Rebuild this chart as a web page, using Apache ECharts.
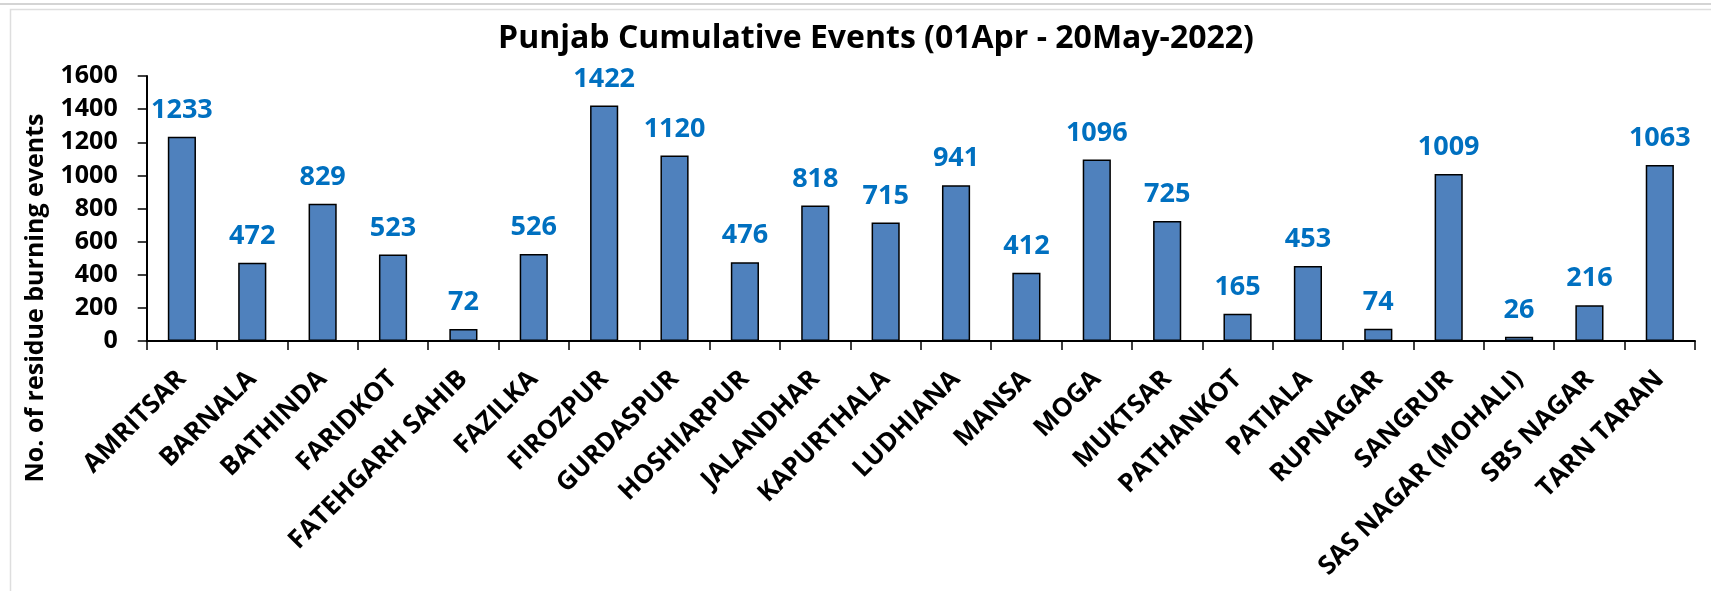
<!DOCTYPE html>
<html>
<head>
<meta charset="utf-8">
<script src="https://cdn.jsdelivr.net/npm/echarts@6/dist/echarts.min.js"></script>
<style>
  html, body { margin: 0; padding: 0; background: #ffffff; }
  #chart { width: 1711px; height: 591px; }
</style>
</head>
<body>
<div id="chart"></div>
<script>
const titleText = 'Punjab Cumulative Events (01Apr - 20May-2022)';
const yAxisTitle = 'No. of residue burning events';
const districts = ['AMRITSAR', 'BARNALA', 'BATHINDA', 'FARIDKOT', 'FATEHGARH SAHIB', 'FAZILKA',
  'FIROZPUR', 'GURDASPUR', 'HOSHIARPUR', 'JALANDHAR', 'KAPURTHALA', 'LUDHIANA', 'MANSA', 'MOGA',
  'MUKTSAR', 'PATHANKOT', 'PATIALA', 'RUPNAGAR', 'SANGRUR', 'SAS NAGAR (MOHALI)', 'SBS NAGAR', 'TARN TARAN'];
const events = [1233, 472, 829, 523, 72, 526, 1422, 1120, 476, 818, 715, 941, 412, 1096, 725, 165, 453, 74, 1009, 26, 216, 1063];
const yMin = 0;
const yMax = 1600;
const yStep = 200;

const FONT = '"Open Sans", "Noto Sans", sans-serif';
const chart = echarts.init(document.getElementById('chart'), null, { renderer: 'canvas' });

chart.setOption({
  backgroundColor: '#ffffff',
  animation: false,
  graphic: [
    { type: 'line', shape: { x1: 0, y1: 4, x2: 1711, y2: 4 }, style: { stroke: '#d4d4d4', lineWidth: 2 }, silent: true },
    { type: 'rect', shape: { x: 10.5, y: 9.5, width: 1720, height: 600 }, style: { fill: 'none', stroke: '#dedede', lineWidth: 1.5 }, silent: true },
    {
      type: 'text', x: 876, y: 39,
      style: { text: titleText, fill: '#000000', font: 'bold 32px ' + FONT, textAlign: 'center', textVerticalAlign: 'middle' },
      silent: true
    },
    {
      type: 'text', x: 36, y: 298, rotation: Math.PI / 2,
      style: { text: yAxisTitle, fill: '#000000', font: 'bold 25px ' + FONT, textAlign: 'center', textVerticalAlign: 'middle' },
      silent: true
    }
  ],
  grid: { left: 146.7, right: 16, top: 76, bottom: 250, containLabel: false },
  xAxis: {
    type: 'category',
    data: districts,
    axisLine: { lineStyle: { color: '#000000', width: 2 } },
    axisTick: { show: true, length: 9, lineStyle: { color: '#000000', width: 1.5 } },
    axisLabel: {
      interval: 0, rotate: 45, margin: 34, color: '#000000',
      fontFamily: FONT, fontWeight: 'bold', fontSize: 26
    },
    splitLine: { show: false }
  },
  yAxis: {
    type: 'value',
    min: yMin, max: yMax, interval: yStep,
    axisLine: { show: true, lineStyle: { color: '#000000', width: 2 } },
    axisTick: { show: true, length: 9, lineStyle: { color: '#000000', width: 1.5 } },
    axisLabel: {
      margin: 29, color: '#000000', fontFamily: FONT, fontWeight: 'bold', fontSize: 25,
      formatter: function (v) { return String(v); }
    },
    splitLine: { show: false }
  },
  series: [{
    type: 'bar',
    data: events,
    barWidth: '40%',
    itemStyle: { color: '#4F81BD', borderColor: '#000000', borderWidth: 1.5 },
    label: {
      show: true, position: 'top', distance: 13, color: '#0070C0',
      fontFamily: FONT, fontWeight: 'bold', fontSize: 27
    }
  }]
});
</script>
</body>
</html>
